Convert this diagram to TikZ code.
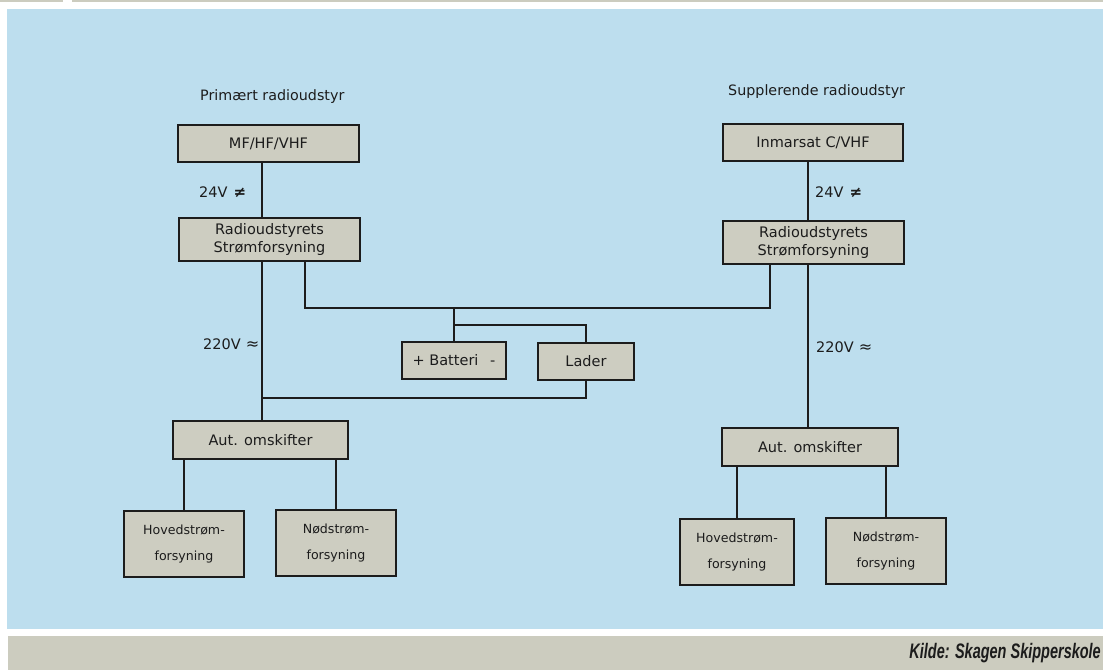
\documentclass[tikz,border=0pt]{standalone}
\usepackage{fontspec}
\usepackage{graphicx}
\setmainfont{DejaVu Sans}
\newfontfamily\kildefont{Liberation Sans}
\usetikzlibrary{positioning}
\definecolor{panelblue}{RGB}{189,222,238}
\definecolor{boxgrey}{RGB}{205,205,193}
\definecolor{bargrey}{RGB}{204,204,191}
\definecolor{inkgrey}{RGB}{28,28,28}
\tikzstyle{unit} = [rectangle, draw=inkgrey, fill=boxgrey, line width=1.8pt, inner sep=0pt, text=inkgrey, align=center, font=\fontsize{14.5}{18.5}\selectfont]
\tikzstyle{supply} = [unit, font=\fontsize{12.6}{26}\selectfont]
\tikzset{
	boxsize/.style 2 args={minimum width=#1, minimum height=#2},
	wire/.style={line width=1.8pt, draw=inkgrey},
	volt/.style={anchor=west, inner sep=0pt, text=inkgrey, font=\fontsize{14.5}{17}\selectfont},
	heading/.style={anchor=west, inner sep=0pt, text=inkgrey, font=\fontsize{14.3}{17}\selectfont}
}
\newcommand{\dcsign}{{\bfseries\fontsize{15}{15}\selectfont ≠}}
\newcommand{\acsign}{{\fontsize{16}{16}\selectfont ≈}}

\begin{document}
\begin{tikzpicture}[x=1pt, y=-1pt]
	\useasboundingbox (0,0) rectangle (1103,670);
	
	% Background panels
	\fill[bargrey] (0,0) rectangle (63,2);
	\fill[bargrey] (72,0) rectangle (1103,2);
	\fill[panelblue] (7,9) rectangle (1103,629);
	\fill[bargrey] (8,636) rectangle (1103,670);
	\node (kilde) [anchor=east, inner sep=0pt, text=inkgrey] at (1101,653) {\scalebox{0.69}[1]{\kildefont\fontsize{21}{21}\selectfont\bfseries\itshape Kilde: Skagen Skipperskole}};
	
	% Headings
	\node (hl) [heading] at (200,97) {Primært radioudstyr};
	\node (hr) [heading] at (728,92) {Supplerende radioudstyr};
	
	% Nodes, primary side
	\node (mfl) [unit, boxsize={181pt}{37pt}] at (268.5,143.5) {MF/HF/VHF};
	\node (rsl) [unit, boxsize={181pt}{43pt}] at (269.5,239.5) {Radioudstyrets\\Strømforsyning};
	\node (autl) [unit, boxsize={175pt}{38pt}] at (260.5,440) {Aut. omskifter};
	\node (hovl) [supply, boxsize={120pt}{66pt}] at (184,544) {Hovedstrøm-\\forsyning};
	\node (nodl) [supply, boxsize={120pt}{66pt}] at (336,543) {Nødstrøm-\\forsyning};
	
	% Nodes, supplementary side
	\node (inm) [unit, boxsize={180pt}{37pt}] at (813,142.5) {Inmarsat C/VHF};
	\node (rsr) [unit, boxsize={181pt}{43pt}] at (813.5,242.5) {Radioudstyrets\\Strømforsyning};
	\node (autr) [unit, boxsize={176pt}{38pt}] at (810,447) {Aut. omskifter};
	\node (hovr) [supply, boxsize={114pt}{66pt}] at (737,552) {Hovedstrøm-\\forsyning};
	\node (nodr) [supply, boxsize={120pt}{66pt}] at (886,551) {Nødstrøm-\\forsyning};
	
	% Nodes, battery and charger
	\node (bat) [unit, boxsize={104pt}{37pt}] at (454,360.5) {+ Batteri\hspace{0.8em}-};
	\node (lad) [unit, boxsize={96pt}{37pt}] at (586,361.5) {Lader};
	
	% Voltage labels
	\node (vl1) [volt] at (199,192) {24V\hspace{6pt}\dcsign};
	\node (vr1) [volt] at (815,192) {24V\hspace{6pt}\dcsign};
	\node (vl2) [volt] at (203,344) {220V\hspace{5pt}\acsign};
	\node (vr2) [volt] at (816,347) {220V\hspace{5pt}\acsign};
	
	% Junction points
	\coordinate (trunkl) at (262,0);
	\coordinate (trunkr) at (808,0);
	\coordinate (busl) at (305,308);
	\coordinate (busr) at (770,308);
	\coordinate (busb) at (454,308);
	\coordinate (ladj) at (454,325);
	\coordinate (feedl) at (262,398);
	
	% Connections
	\draw [wire] (mfl.south -| trunkl) -- (rsl.north -| trunkl);
	\draw [wire] (rsl.south -| trunkl) -- (autl.north -| trunkl);
	\draw [wire] (inm.south -| trunkr) -- (rsr.north -| trunkr);
	\draw [wire] (rsr.south -| trunkr) -- (autr.north -| trunkr);
	\draw [wire] (rsl.south -| busl) -- (busl) -- (busr) -- (rsr.south -| busr);
	\draw [wire] (busb) -- (bat.north);
	\draw [wire] (ladj) -| (lad.north);
	\draw [wire] (lad.south) |- (feedl);
	\draw [wire] (hovl.north) -- (hovl.north |- autl.south);
	\draw [wire] (nodl.north) -- (nodl.north |- autl.south);
	\draw [wire] (hovr.north) -- (hovr.north |- autr.south);
	\draw [wire] (nodr.north) -- (nodr.north |- autr.south);
	
\end{tikzpicture}
\end{document}
